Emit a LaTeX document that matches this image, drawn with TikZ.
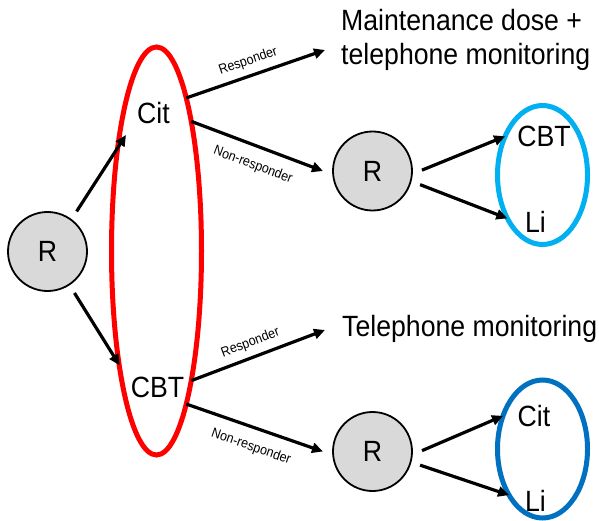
\documentclass[tikz,border=0pt]{standalone}
\usepackage{fontspec}
\newfontfamily\diagfont[FakeStretch=0.91]{Liberation Sans}
\usetikzlibrary{arrows.meta,shapes.geometric}
\definecolor{armred}{HTML}{FF0000}
\definecolor{armcyan}{HTML}{00B0F0}
\definecolor{armblue}{HTML}{0070C0}
\definecolor{randgray}{HTML}{D9D9D9}
\begin{document}
\begin{tikzpicture}[x=1pt, y=-1pt, >={Triangle[length=11pt,width=10pt]},
  rand/.style={circle, draw, line width=1.8pt, fill=randgray, minimum size=79pt, inner sep=0pt, outer sep=10pt, font=\diagfont\fontsize{29.3}{33.6}\selectfont},
  arm/.style={ellipse, line width=5pt, inner sep=0pt, outer sep=0pt},
  treat/.style={inner sep=11pt, font=\diagfont\fontsize{29.3}{33.6}\selectfont},
  outcome/.style={anchor=north west, inner sep=0pt, align=left, font=\diagfont\fontsize{29.3}{33.6}\selectfont},
  flow/.style={->, line width=3.2pt},
  resp/.style={sloped, font=\diagfont\fontsize{13.7}{16}\selectfont}]
\useasboundingbox (0,0) rectangle (599,521);
\node[arm, draw=armred, minimum width=90pt, minimum height=408pt] (arm1) at (156.5,251) {};
\node[arm, draw=armcyan, minimum width=90pt, minimum height=139pt] (arm2) at (542.5,175) {};
\node[arm, draw=armblue, minimum width=90pt, minimum height=138pt] (arm3) at (542.5,449) {};
\node[rand] (r0) at (47.5,251.5) {R};
\node[rand] (r1) at (372.5,171) {R};
\node[rand] (r2) at (372.5,451.5) {R};
\node[treat] (cit1) at (153.5,113) {Cit};
\node[treat] (cbt1) at (157.5,387) {CBT};
\node[treat] (cbt2) at (544,136) {CBT};
\node[treat] (li1) at (535.5,221.5) {Li};
\node[treat] (cit2) at (534,416) {Cit};
\node[treat] (li2) at (535.5,500.5) {Li};
\node[outcome] (maint) at (341,9.3) {Maintenance dose +\\telephone monitoring};
\node[outcome] (phone) at (342,315) {Telephone monitoring};
\coordinate (end1) at (325,50);
\coordinate (end2) at (325,330);
\draw[flow] (r0.54) -- (cit1.south west);
\draw[flow] (r0.-57) -- (cbt1.north west);
\draw[flow] (arm1.79) -- node[resp, pos=0.48, above=3pt] {Responder} (end1);
\draw[flow] (arm1.75) -- node[resp, pos=0.52, below=8pt] {Non-responder} (r1.west);
\draw[flow] (arm1.-75) -- node[resp, pos=0.48, above=3pt] {Responder} (end2);
\draw[flow] (arm1.-79) -- node[resp, pos=0.52, below=8pt] {Non-responder} (r2.west);
\draw[flow] (r1.1) -- (arm2.134);
\draw[flow] (r1.-16) -- (arm2.231);
\draw[flow] (r2.1) -- (arm3.140);
\draw[flow] (r2.-16) -- (arm3.234);
\end{tikzpicture}
\end{document}
